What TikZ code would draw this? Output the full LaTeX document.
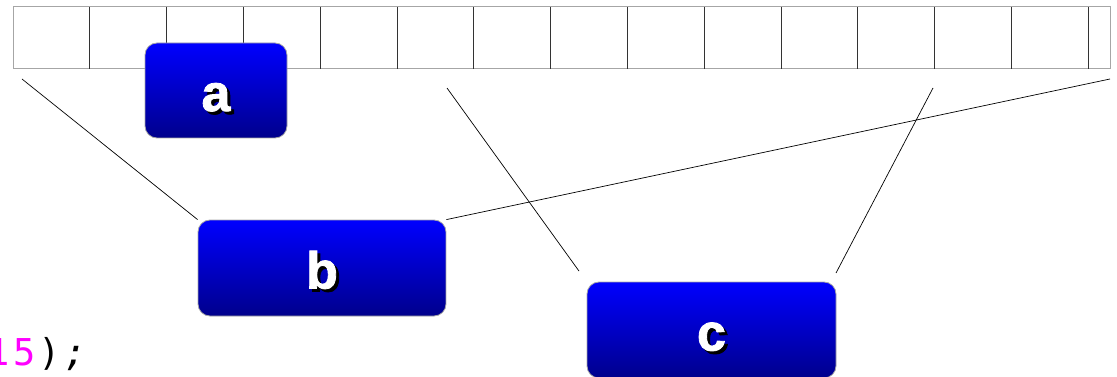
\documentclass[tikz,border=0pt]{standalone}
\usepackage{fontspec}
\setmainfont{Liberation Sans}
\newfontfamily\boxfont{Liberation Sans}[BoldFeatures={FakeBold=1.6}]
\newfontfamily\monofont{DejaVu Sans Mono}
\usetikzlibrary{backgrounds}
\definecolor{boxtop}{RGB}{0,0,255}
\definecolor{boxbot}{RGB}{0,0,140}
\definecolor{codemag}{RGB}{255,0,255}
\newcommand{\shadowlabel}[1]{\makebox[0pt][l]{\hspace{3pt}\raisebox{-3pt}{\color{black}#1}}\color{white}#1}
\newcommand{\mchar}[1]{\makebox[25.5pt][c]{#1}}
\tikzset{
  bluebox/.style={draw=gray!70, line width=0.8pt, rounded corners=12pt,
    top color=boxtop, bottom color=boxbot, inner sep=0pt,
    font=\boxfont\fontsize{52}{52}\selectfont\bfseries, text height=41pt, text depth=0pt},
  cellline/.style={draw=black!80, line width=0.8pt},
  link/.style={draw=black, line width=0.7pt}
}
\begin{document}
\begin{tikzpicture}[x=1pt,y=-1pt]
\useasboundingbox (0,0) rectangle (1117,377);
% strip
\draw[draw=gray!70, line width=1pt] (13,7) rectangle (1110,69);
\foreach \i in {1,...,14} \draw[cellline] ({13+76.8*\i},7) -- ({13+76.8*\i},69);
% boxes
\node[bluebox, minimum width=142pt, minimum height=95pt] (a) at (216,90.5) {\shadowlabel{a}};
\node[bluebox, minimum width=248pt, minimum height=96pt] (b) at (322,268) {\shadowlabel{b}};
\node[bluebox, minimum width=249pt, minimum height=96pt] (c) at (711.5,330) {\shadowlabel{c}};
% connector ends
\coordinate (s1) at (22,79);
\coordinate (s2) at (447,88);
\coordinate (s3) at (933,88);
\coordinate (s4) at (1110,79);
\coordinate (ce) at (836,273);
\begin{scope}[on background layer]
\draw[link] (s1) -- (b.north west);
\draw[link] (s4) -- (b.north east);
\draw[link, shorten >=13pt] (s2) -- (c.north west);
\draw[link] (s3) -- (ce);
\end{scope}
% code fragment
\node[anchor=base west, inner sep=0pt, font=\monofont\fontsize{37}{37}\selectfont] (code) at (-14.25,365)
  {\color{codemag}\mchar{1}\mchar{5}\color{black}\mchar{)}\mchar{\itshape;}};
\end{tikzpicture}
\end{document}
